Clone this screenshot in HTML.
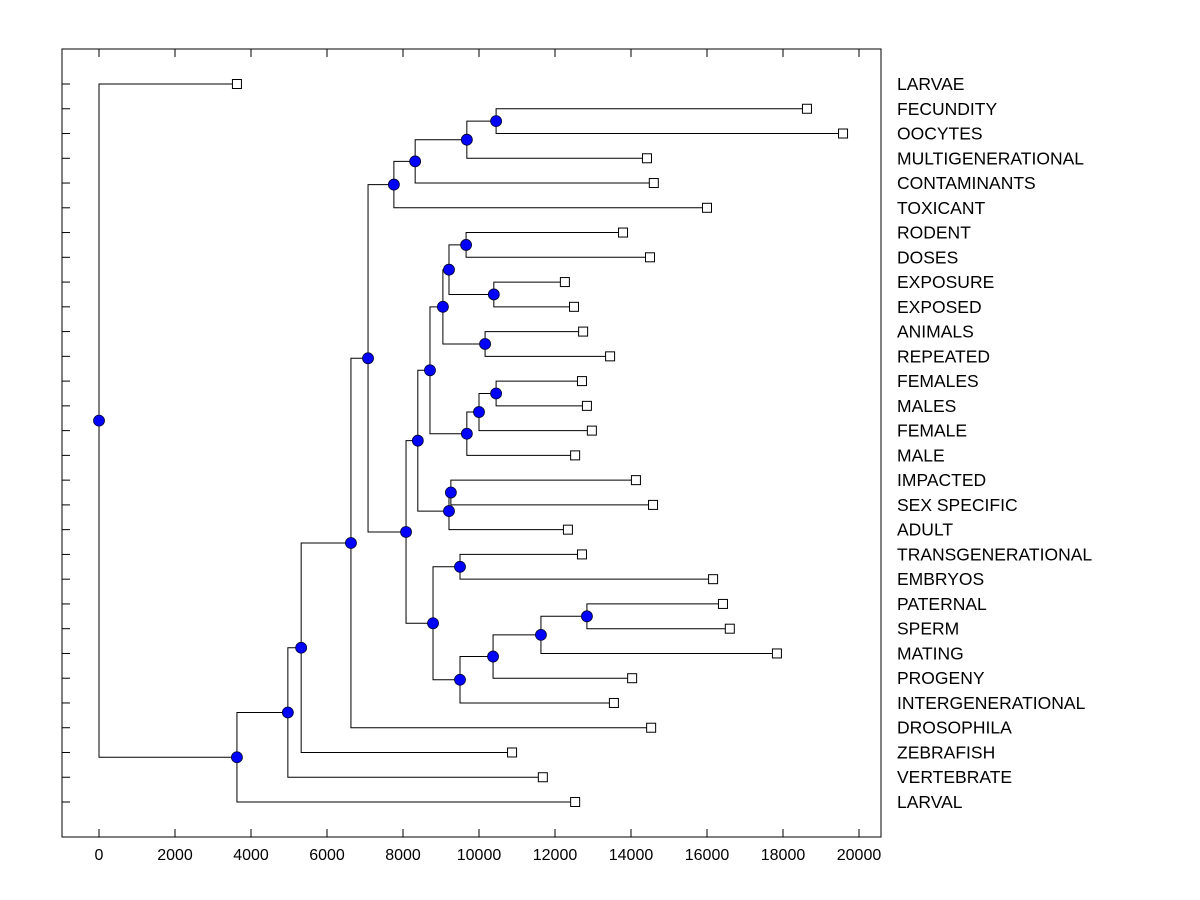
<!DOCTYPE html>
<html><head><meta charset="utf-8"><style>
html,body{margin:0;padding:0;background:#fff;}
svg{display:block;font-family:"Liberation Sans",Arial,sans-serif;}
</style></head><body>
<svg id="chart" width="1200" height="900"></svg>
<script>
const leafNames = ["LARVAE","FECUNDITY","OOCYTES","MULTIGENERATIONAL","CONTAMINANTS","TOXICANT","RODENT","DOSES","EXPOSURE","EXPOSED","ANIMALS","REPEATED","FEMALES","MALES","FEMALE","MALE","IMPACTED","SEX SPECIFIC","ADULT","TRANSGENERATIONAL","EMBRYOS","PATERNAL","SPERM","MATING","PROGENY","INTERGENERATIONAL","DROSOPHILA","ZEBRAFISH","VERTEBRATE","LARVAL"];
const leafValues = [3630,18630,19580,14420,14600,16000,13790,14500,12260,12500,12740,13450,12710,12840,12970,12530,14130,14580,12340,12710,16160,16420,16600,17840,14030,13550,14530,10870,11680,12530];
const mergeLeft  = [1,30,31,32,6,8,34,10,36,12,39,40,38,16,43,42,19,21,47,48,49,46,45,33,53,54,55,56,0];
const mergeRight = [2,3,4,5,7,9,35,11,37,13,14,15,41,17,18,44,20,22,23,24,25,50,51,52,26,27,28,29,57];
const mergeValues = [10450,9680,8320,7760,9660,10390,9210,10160,9050,10450,10000,9680,8710,9260,9210,8390,9500,12840,11630,10370,9500,8790,8080,7080,6630,5320,4970,3630,0];
const xTicks = [0,2000,4000,6000,8000,10000,12000,14000,16000,18000,20000];

const NS="http://www.w3.org/2000/svg";
const svg=document.getElementById('chart');
const L=62,R=881,T=49,B=837;
const xs=v=>99+v*0.038;
const ys=i=>84+i*(802-84)/29;
function mk(tag,attrs,parent){const e=document.createElementNS(NS,tag);for(const k in attrs)e.setAttribute(k,attrs[k]);(parent||svg).appendChild(e);return e;}

const frame=mk('rect',{x:L,y:T,width:R-L,height:B-T,fill:'none',stroke:'#000','stroke-width':1});



const axisG=mk('g',{});


xTicks.forEach(t=>{
  const x=xs(t);
  mk('line',{x1:x,y1:B,x2:x,y2:B-8,stroke:'#000'},axisG);
  mk('line',{x1:x,y1:T,x2:x,y2:T+8,stroke:'#000'},axisG);
  const tx=mk('text',{x:x,y:860,'text-anchor':'middle','font-size':16},axisG);
  tx.textContent=t;
  
  
});

const nx=[],ny=[];
leafNames.forEach((n,i)=>{nx[i]=xs(leafValues[i]);ny[i]=ys(i);});
mergeValues.forEach((v,k)=>{const id=30+k;nx[id]=xs(v);ny[id]=(ny[mergeLeft[k]]+ny[mergeRight[k]])/2;});

const linesG=mk('g',{stroke:'#000','stroke-width':1,fill:'none'});


mergeValues.forEach((v,k)=>{
  const x=nx[30+k],a=mergeLeft[k],b=mergeRight[k];
  mk('path',{d:`M${nx[a]},${ny[a]}H${x}V${ny[b]}H${nx[b]}`},linesG);
});

leafNames.forEach((n,i)=>{
  const y=ys(i);
  mk('line',{x1:L,y1:y,x2:L+8,y2:y,stroke:'#000'});
  const r=mk('rect',{x:nx[i]-4.5,y:y-4.5,width:9,height:9,fill:'#fff',stroke:'#000'});
  
  
  const t=mk('text',{x:897,y:y+6,'font-size':17.5});
  t.textContent=n;
  
  
});

mergeValues.forEach((v,k)=>{
  const c=mk('circle',{cx:nx[30+k],cy:ny[30+k],r:5.5,fill:'#0000ff',stroke:'#000033','stroke-width':0.8});
  
  
});
</script>
</body></html>
